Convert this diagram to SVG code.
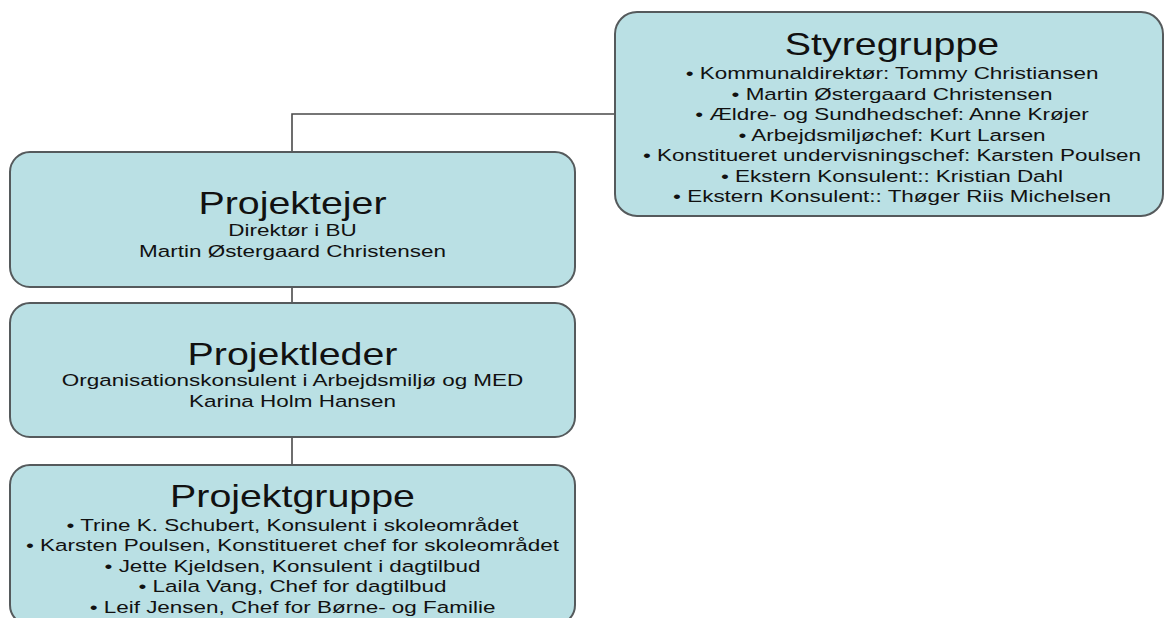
<svg xmlns="http://www.w3.org/2000/svg" width="1166" height="618" viewBox="0 0 1166 618">
  <style>
    .box { fill: #bae0e4; stroke: #555a5c; stroke-width: 2; }
    .wire { fill: none; stroke: #4a4a4a; stroke-width: 1.6; }
    text { font-family: "Liberation Sans", Arial, sans-serif; fill: #111; text-anchor: middle; }
    .title { font-size: 30.5px; }
    .body { font-size: 17.4px; }
  </style>

  <!-- connectors -->
  <g id="connectors">
    <polyline class="wire" points="615,114 292,114 292,152"/>
    <line class="wire" x1="292" y1="287" x2="292" y2="303"/>
    <line class="wire" x1="292" y1="437" x2="292" y2="465"/>
  </g>

  <!-- Styregruppe -->
  <g id="styregruppe">
    <rect class="box" x="615" y="12" width="548" height="204" rx="22" ry="22"/>
    <g transform="translate(892,0) scale(1.29,1)">
      <text class="title" x="0" y="55">Styregruppe</text>
      <text class="body" x="0" y="79.5">• Kommunaldirektør: Tommy Christiansen</text>
      <text class="body" x="0" y="100">• Martin Østergaard Christensen</text>
      <text class="body" x="0" y="120.5">• Ældre- og Sundhedschef: Anne Krøjer</text>
      <text class="body" x="0" y="141">• Arbejdsmiljøchef: Kurt Larsen</text>
      <text class="body" x="0" y="161.5">• Konstitueret undervisningschef: Karsten Poulsen</text>
      <text class="body" x="0" y="182">• Ekstern Konsulent:: Kristian Dahl</text>
      <text class="body" x="0" y="202.5">• Ekstern Konsulent:: Thøger Riis Michelsen</text>
    </g>
  </g>

  <!-- Projektejer -->
  <g id="projektejer">
    <rect class="box" x="10" y="152" width="565" height="135" rx="20" ry="20"/>
    <g transform="translate(292.5,0) scale(1.29,1)">
      <text class="title" x="0" y="214">Projektejer</text>
      <text class="body" x="0" y="236.5">Direktør i BU</text>
      <text class="body" x="0" y="257">Martin Østergaard Christensen</text>
    </g>
  </g>

  <!-- Projektleder -->
  <g id="projektleder">
    <rect class="box" x="10" y="303" width="565" height="134" rx="20" ry="20"/>
    <g transform="translate(292.5,0) scale(1.29,1)">
      <text class="title" x="0" y="365">Projektleder</text>
      <text class="body" x="0" y="386.5">Organisationskonsulent i Arbejdsmiljø og MED</text>
      <text class="body" x="0" y="407">Karina Holm Hansen</text>
    </g>
  </g>

  <!-- Projektgruppe (runs past the lower edge) -->
  <g id="projektgruppe">
    <rect class="box" x="10" y="465" width="565" height="160" rx="20" ry="20"/>
    <g transform="translate(292.5,0) scale(1.29,1)">
      <text class="title" x="0" y="507">Projektgruppe</text>
      <text class="body" x="0" y="531">• Trine K. Schubert, Konsulent i skoleområdet</text>
      <text class="body" x="0" y="551.5">• Karsten Poulsen, Konstitueret chef for skoleområdet</text>
      <text class="body" x="0" y="572">• Jette Kjeldsen, Konsulent i dagtilbud</text>
      <text class="body" x="0" y="592.5">• Laila Vang, Chef for dagtilbud</text>
      <text class="body" x="0" y="613">• Leif Jensen, Chef for Børne- og Familie</text>
    </g>
  </g>
</svg>
